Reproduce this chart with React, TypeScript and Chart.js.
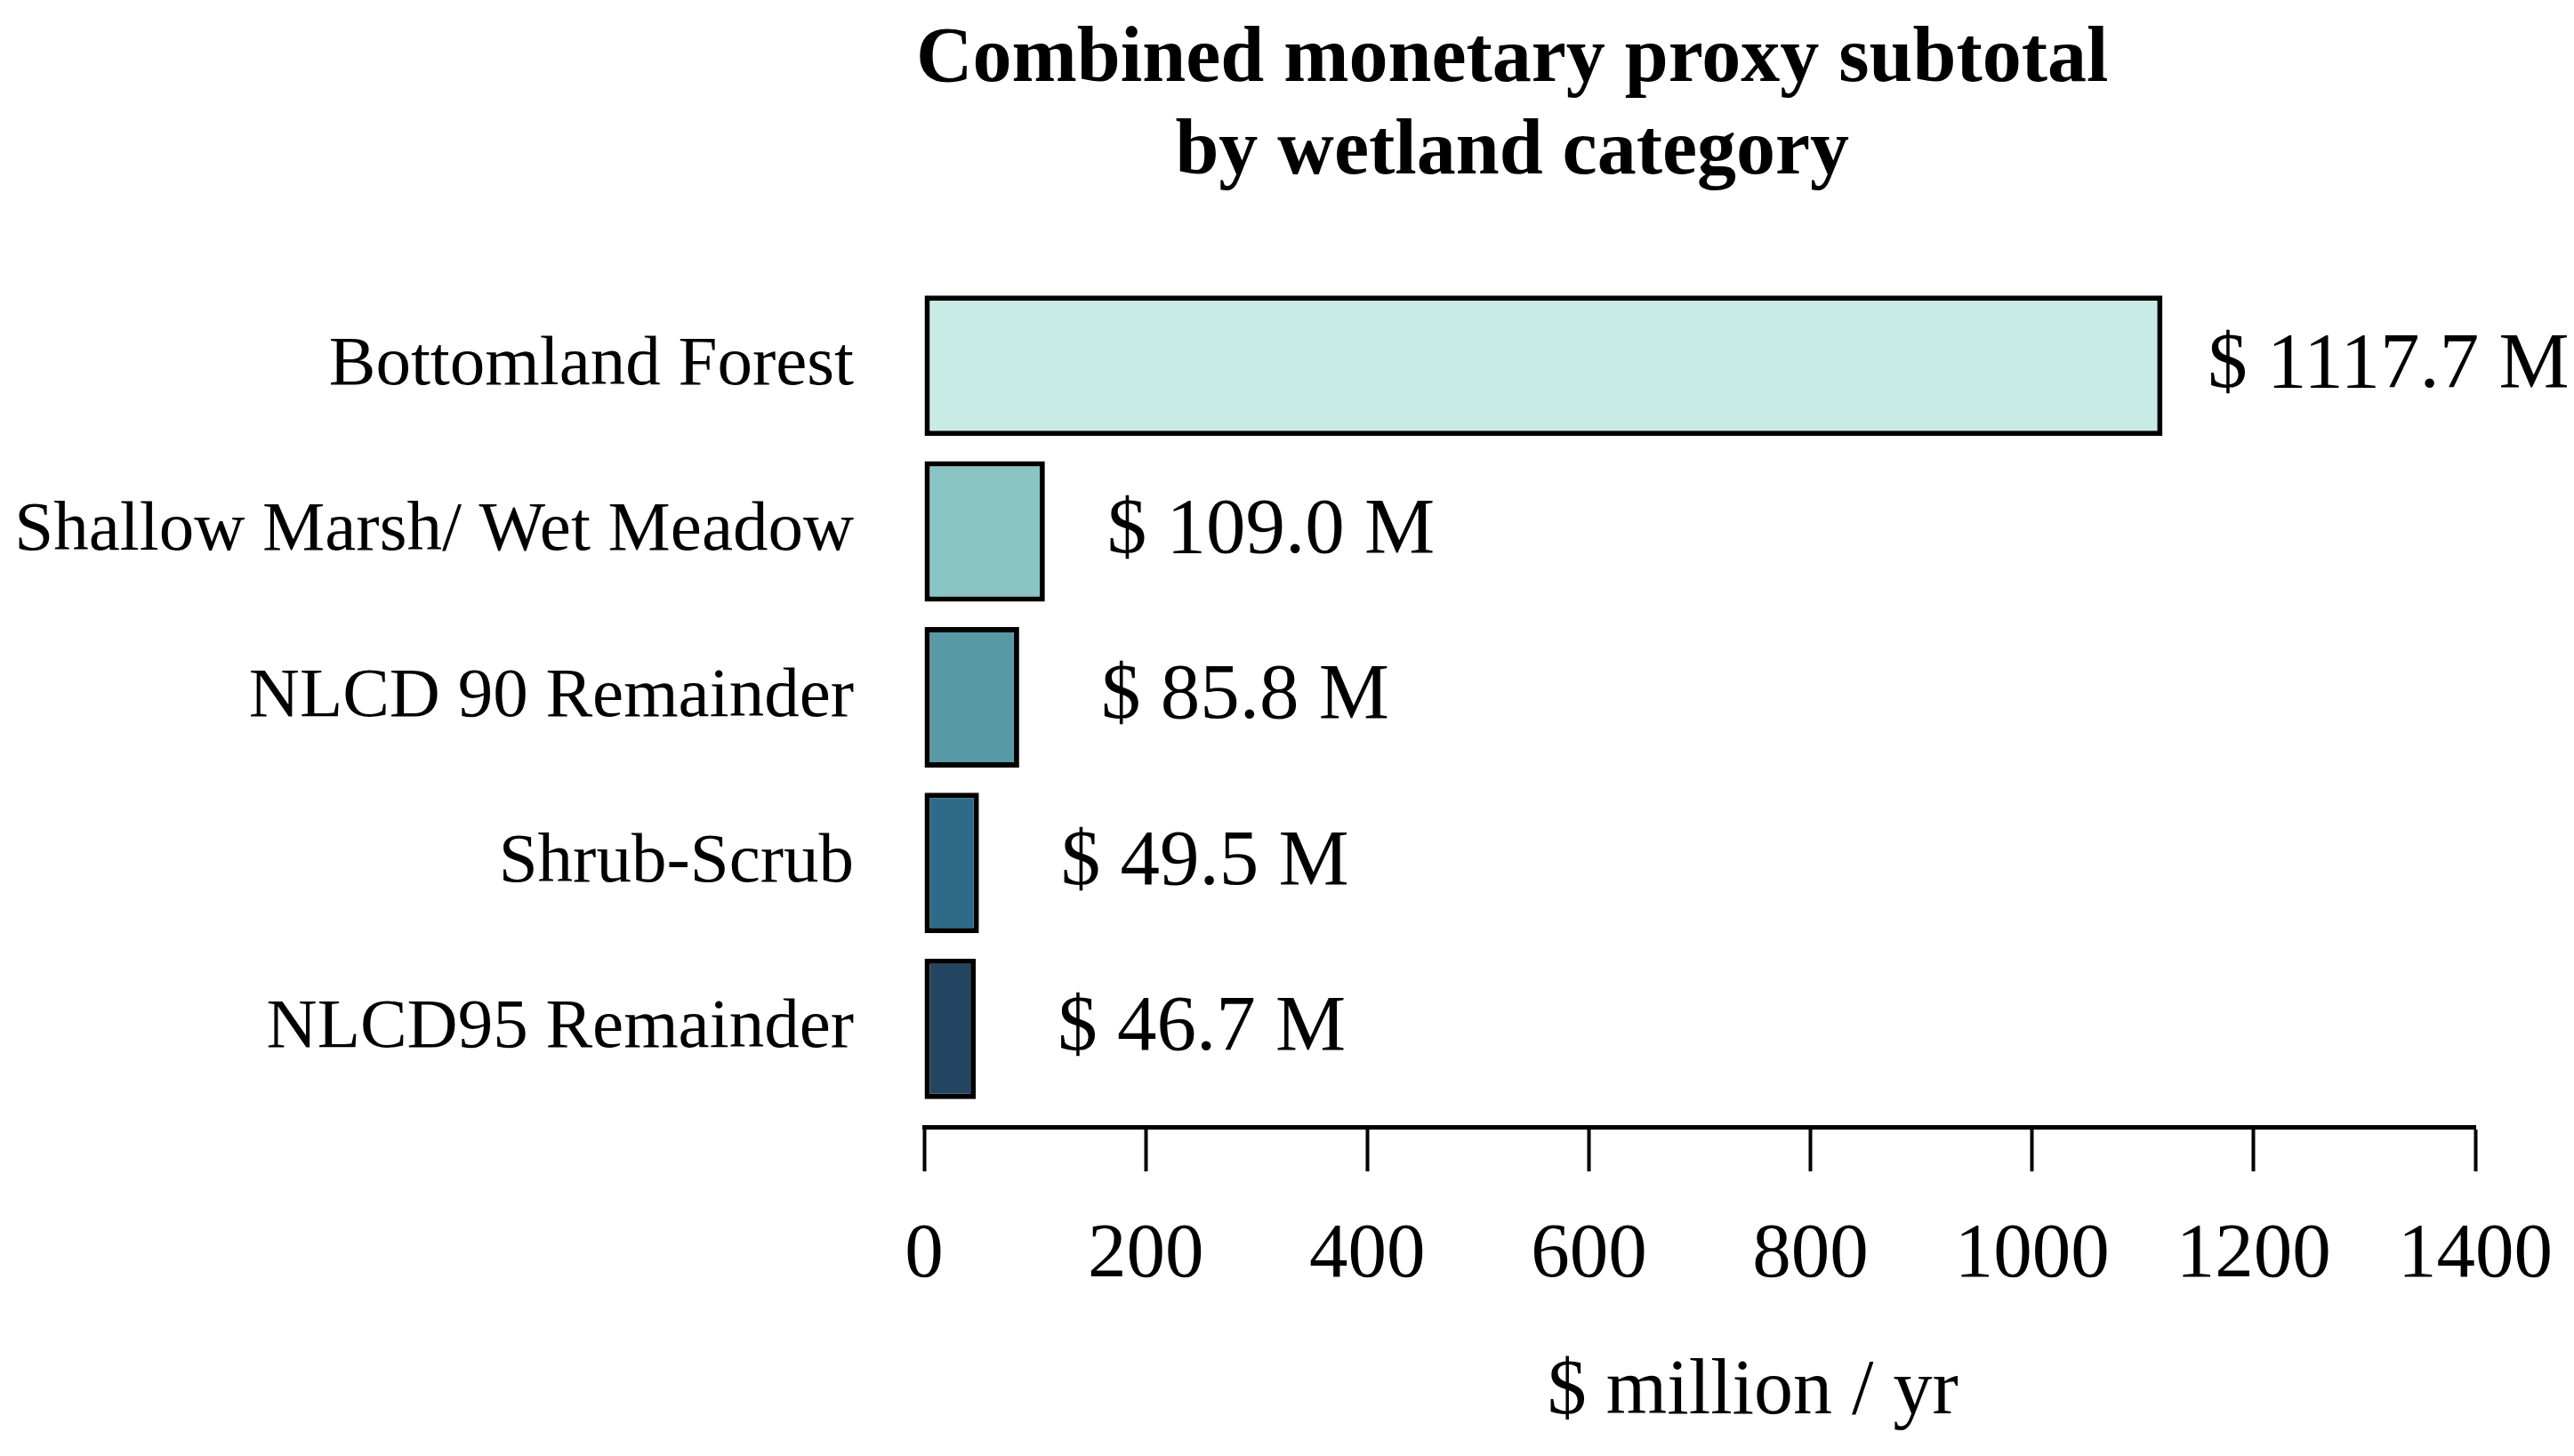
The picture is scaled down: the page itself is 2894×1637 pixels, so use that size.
import { useEffect, useRef } from "react";
import { Chart, registerables } from "chart.js";

Chart.register(...registerables);

// chart values
const categories = [
  "Bottomland Forest",
  "Shallow Marsh/ Wet Meadow",
  "NLCD 90 Remainder",
  "Shrub-Scrub",
  "NLCD95 Remainder",
];
const subtotals = [1117.7, 109.0, 85.8, 49.5, 46.7];
const barColors = ["#c8ebe5", "#8ac5c6", "#5899a6", "#2f6b88", "#234562"];
const xTicks = [0, 200, 400, 600, 800, 1000, 1200, 1400];
const titleLines = ["Combined monetary proxy subtotal", "by wetland category"];
const axisTitle = "$ million / yr";

const SERIF = "'Liberation Serif', 'Times New Roman', serif";

// draws the title, the value labels and the x axis title
const textPlugin = {
  id: "textPlugin",
  afterDatasetsDraw(chart: any) {
    const { ctx } = chart;
    const xScale = chart.scales.x;
    const meta = chart.getDatasetMeta(0);
    ctx.save();
    ctx.fillStyle = "#000";
    ctx.textAlign = "center";
    ctx.textBaseline = "middle";
    ctx.font = `89px ${SERIF}`;
    meta.data.forEach((bar: any, i: number) => {
      const v = subtotals[i];
      ctx.fillText(`$ ${v.toFixed(1)} M`, xScale.getPixelForValue(v + 204), bar.y);
    });
    ctx.restore();
  },
  afterDraw(chart: any) {
    const { ctx, width } = chart;
    ctx.save();
    ctx.fillStyle = "#000";
    ctx.textAlign = "center";
    ctx.textBaseline = "alphabetic";
    ctx.font = `bold 88px ${SERIF}`;
    titleLines.forEach((line, i) => {
      ctx.fillText(line, width * 0.5875, 91 + i * 104);
    });
    ctx.font = `88px ${SERIF}`;
    ctx.fillText(axisTitle, width * 0.681, 1589);
    ctx.restore();
  },
};

export default function App() {
  const canvasRef = useRef<HTMLCanvasElement | null>(null);

  useEffect(() => {
    if (!canvasRef.current) return;

    const chart = new Chart(canvasRef.current, {
      type: "bar",
      data: {
        labels: categories,
        datasets: [
          {
            data: subtotals.map((v, i) => ({ x: v, y: i })),
            backgroundColor: barColors,
            borderColor: "#000",
            borderWidth: 6,
            borderSkipped: false,
            barPercentage: 0.848,
            categoryPercentage: 1,
          },
        ],
      },
      options: {
        indexAxis: "y",
        animation: false,
        responsive: true,
        maintainAspectRatio: false,
        devicePixelRatio: 1,
        layout: { padding: { top: 318, right: 111, left: 0, bottom: 0 } },
        plugins: {
          legend: { display: false },
          tooltip: { enabled: false },
          title: { display: false },
        },
        scales: {
          x: {
            type: "linear",
            position: "bottom",
            min: 0,
            max: 1400,
            offset: false,
            afterBuildTicks: (scale: any) => {
              scale.ticks = xTicks.map((value) => ({ value }));
            },
            afterFit: (scale: any) => {
              scale.height = 370;
              scale.paddingLeft = 0;
              scale.paddingRight = 0;
            },
            grid: {
              drawOnChartArea: false,
              drawTicks: true,
              tickLength: 50,
              tickWidth: 4,
              color: "#000",
            },
            border: { display: true, color: "#000", width: 5 },
            ticks: {
              color: "#000",
              padding: 43,
              font: { family: SERIF, size: 87 },
              maxRotation: 0,
              autoSkip: false,
              callback: (value: any) => String(value),
            },
          },
          y: {
            type: "linear",
            reverse: true,
            offset: false,
            bounds: "data",
            min: -0.5,
            max: 4.592,
            afterBuildTicks: (scale: any) => {
              scale.ticks = categories.map((_, i) => ({ value: i }));
            },
            afterFit: (scale: any) => {
              scale.width = 1039;
            },
            grid: { display: false, offset: false },
            border: { display: false },
            ticks: {
              color: "#000",
              padding: 71,
              autoSkip: false,
              font: { family: SERIF, size: 79 },
              callback: (value: any) => categories[value] ?? "",
            },
          },
        },
      },
      plugins: [textPlugin],
    });

    return () => {
      chart.destroy();
    };
  }, []);

  return (
    <div
      style={{
        position: "fixed",
        left: 0,
        top: 0,
        width: "2894px",
        height: "1637px",
        background: "#fff",
      }}
    >
      <canvas ref={canvasRef}></canvas>
    </div>
  );
}
